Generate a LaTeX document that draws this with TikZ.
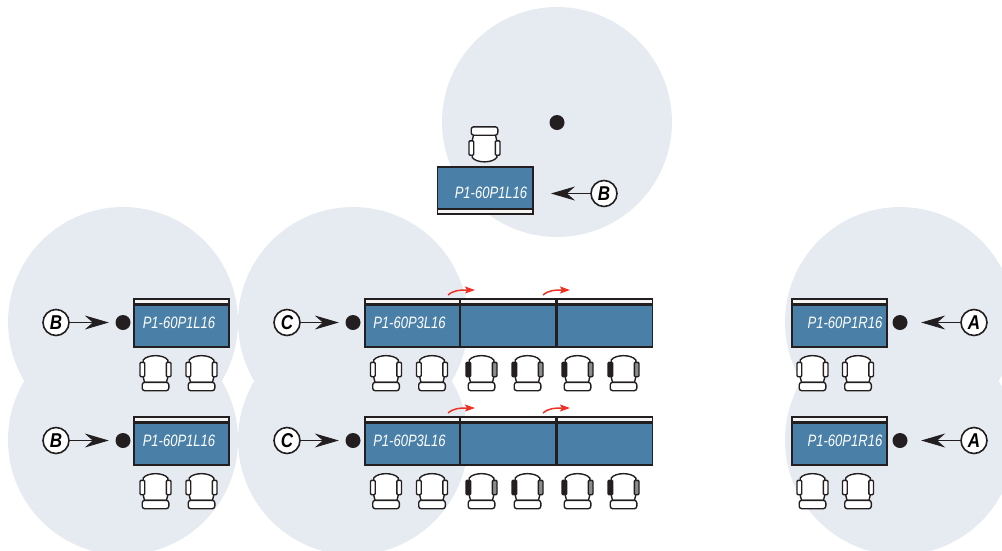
\documentclass[tikz,border=0pt]{standalone}
\usepackage{fontspec}
\setmainfont{Liberation Sans}
\usetikzlibrary{arrows.meta}
\definecolor{zone}{HTML}{E6EBF2}
\definecolor{deskblue}{HTML}{4A80A8}
\definecolor{ink}{HTML}{231F20}
\definecolor{stripw}{HTML}{F4F4F2}
\definecolor{redarrow}{HTML}{EE3124}
\newcommand{\narrowtxt}[1]{\scalebox{.79}[1]{#1}}
\newcommand{\narrowlet}[1]{\scalebox{.85}[1]{#1}}
\newcommand{\chairshell}{%
    \path[chairline,fill=white] (-12.3,4) -- (-12.3,-13) .. controls (-8,-18.8) and (8,-18.8) .. (12.3,-13) -- (12.3,4) -- (11,9.3) -- (-11,9.3) -- (-12.3,4) -- cycle;
    \path[chairline,fill=white,rounded corners=2.5pt] (-13.3,9.3) rectangle (13.3,17.7);
}
\tikzset{
  x=1pt,y=-1pt,
  zonedisc/.style={fill=zone,draw=none},
  deskbox/.style={draw=ink,line width=1.6pt,fill=deskblue,inner sep=0pt,minimum width=95.4pt,minimum height=42.2pt},
  stripbox/.style={draw=ink,line width=1.6pt,fill=stripw,inner sep=0pt,minimum width=95.4pt,minimum height=5pt},
  desktext/.style={text=white,inner sep=0pt,font=\fontsize{16.5}{16.5}\selectfont\itshape},
  dotnode/.style={circle,fill=ink,inner sep=0pt,minimum size=15pt},
  letternode/.style={circle,draw=ink,fill=white,line width=1.6pt,inner sep=0pt,minimum size=26pt,font=\fontsize{20}{20}\selectfont\bfseries\itshape},
  pointer/.style={draw=ink,line width=.9pt,-{Stealth[length=24pt,width=14pt,inset=8pt]}},
  swing/.style={draw=redarrow,line width=1.5pt,-{Stealth[length=10pt,width=7pt,inset=2pt]}},
  chairline/.style={draw=ink,line width=1.4pt,line join=round},
  chair/.pic={
    \chairshell
    \path[chairline,fill=white,rounded corners=1pt] (-15.5,-10.7) rectangle (-10.8,3.7);
    \path[chairline,fill=white,rounded corners=1pt] (10.8,-10.7) rectangle (15.5,3.7);
  },
  chairk/.pic={
    \chairshell
    \path[chairline,fill=ink,rounded corners=1pt] (-15.5,-10.7) rectangle (-10.8,3.7);
    \path[chairline,fill=black!45,rounded corners=1pt] (10.8,-10.7) rectangle (15.5,3.7);
  }
}
% name, left x, top y, text, text centre x
\newcommand{\deskunit}[5]{%
  \node[stripbox,anchor=north west] (#1s) at (#2,#3) {};
  \node[deskbox,anchor=north west] (#1) at (#2,#3+6.2) {};
  \ifx&#4&\else\node[desktext] (#1t) at (#5,#3+25) {\narrowtxt{#4}};\fi
}
\begin{document}
\begin{tikzpicture}
\useasboundingbox (0,0) rectangle (1002,550);
\begin{scope}
  \clip (0,0) rectangle (1002,550);
  \foreach \cx/\cy in {557/122,123/322,123/440,353/322,353/440,900/322,900/440}
    \fill[zonedisc] (\cx,\cy) circle[radius=115];
\end{scope}

% top unit
\node[deskbox,anchor=north west] (topdesk) at (436.5,166) {};
\node[stripbox,anchor=north west] (topstrip) at (436.5,208.3) {};
\node[desktext] (toptext) at (491,193) {\narrowtxt{P1-60P1L16}};
\pic at (484.5,144.5) [yscale=-1] {chair};
\node[dotnode] (topdot) at (557,122.5) {};
\node[letternode] (topB) at (604,193.5) {\narrowlet{B}};
\coordinate (toptip) at (551,193.5);
\draw[pointer] (topB) -- (toptip);

% left units
\deskunit{la}{133}{298}{P1-60P1L16}{179}
\deskunit{lb}{133}{416}{P1-60P1L16}{179}
\foreach \cy in {373,491} \foreach \cx in {155.5,201.5} \pic at (\cx,\cy) {chair};
\node[dotnode] (dla) at (123,322.5) {};
\node[dotnode] (dlb) at (123,440.5) {};
\node[letternode] (Bla) at (56,322.5) {\narrowlet{B}};
\node[letternode] (Blb) at (56,440.5) {\narrowlet{B}};
\draw[pointer,shorten >=6.5pt] (Bla) -- (dla);
\draw[pointer,shorten >=6.5pt] (Blb) -- (dlb);

% centre units
\deskunit{ca}{364}{298}{P1-60P3L16}{409.5}
\deskunit{cb}{459.6}{298}{}{0}
\deskunit{cc}{556.3}{298}{}{0}
\deskunit{da}{364}{416}{P1-60P3L16}{409.5}
\deskunit{db}{459.6}{416}{}{0}
\deskunit{dc}{556.3}{416}{}{0}
\foreach \cy in {373,491} {
  \foreach \cx in {386,432} \pic at (\cx,\cy) {chair};
  \foreach \cx in {481.5,527.5,577.5,623.5} \pic at (\cx,\cy) {chairk};
}
\node[dotnode] (dca) at (353,322.5) {};
\node[dotnode] (dcb) at (353,440.5) {};
\node[letternode] (Cca) at (287,322.5) {\narrowlet{C}};
\node[letternode] (Ccb) at (287,440.5) {\narrowlet{C}};
\draw[pointer,shorten >=6.5pt] (Cca) -- (dca);
\draw[pointer,shorten >=6.5pt] (Ccb) -- (dcb);
\foreach \n/\sx/\sy in {ra/448/295,rb/543/295,rc/448/413,rd/543/413} {
  \coordinate (\n s) at (\sx,\sy);
  \coordinate (\n e) at (\sx+27,\sy-5);
  \draw[swing] (\n s) .. controls (\sx+6,\sy-5) and (\sx+12,\sy-5) .. (\n e);
}

% right units
\deskunit{ra}{791}{298}{P1-60P1R16}{845}
\deskunit{rb}{791}{416}{P1-60P1R16}{845}
\foreach \cy in {373,491} \foreach \cx in {812.5,858} \pic at (\cx,\cy) {chair};
\node[dotnode] (dra) at (900,322.5) {};
\node[dotnode] (drb) at (900,440.5) {};
\node[letternode] (Ara) at (974,322.5) {\narrowlet{A}};
\node[letternode] (Arb) at (974,440.5) {\narrowlet{A}};
\draw[pointer,shorten >=13.5pt] (Ara) -- (dra);
\draw[pointer,shorten >=13.5pt] (Arb) -- (drb);
\end{tikzpicture}
\end{document}
